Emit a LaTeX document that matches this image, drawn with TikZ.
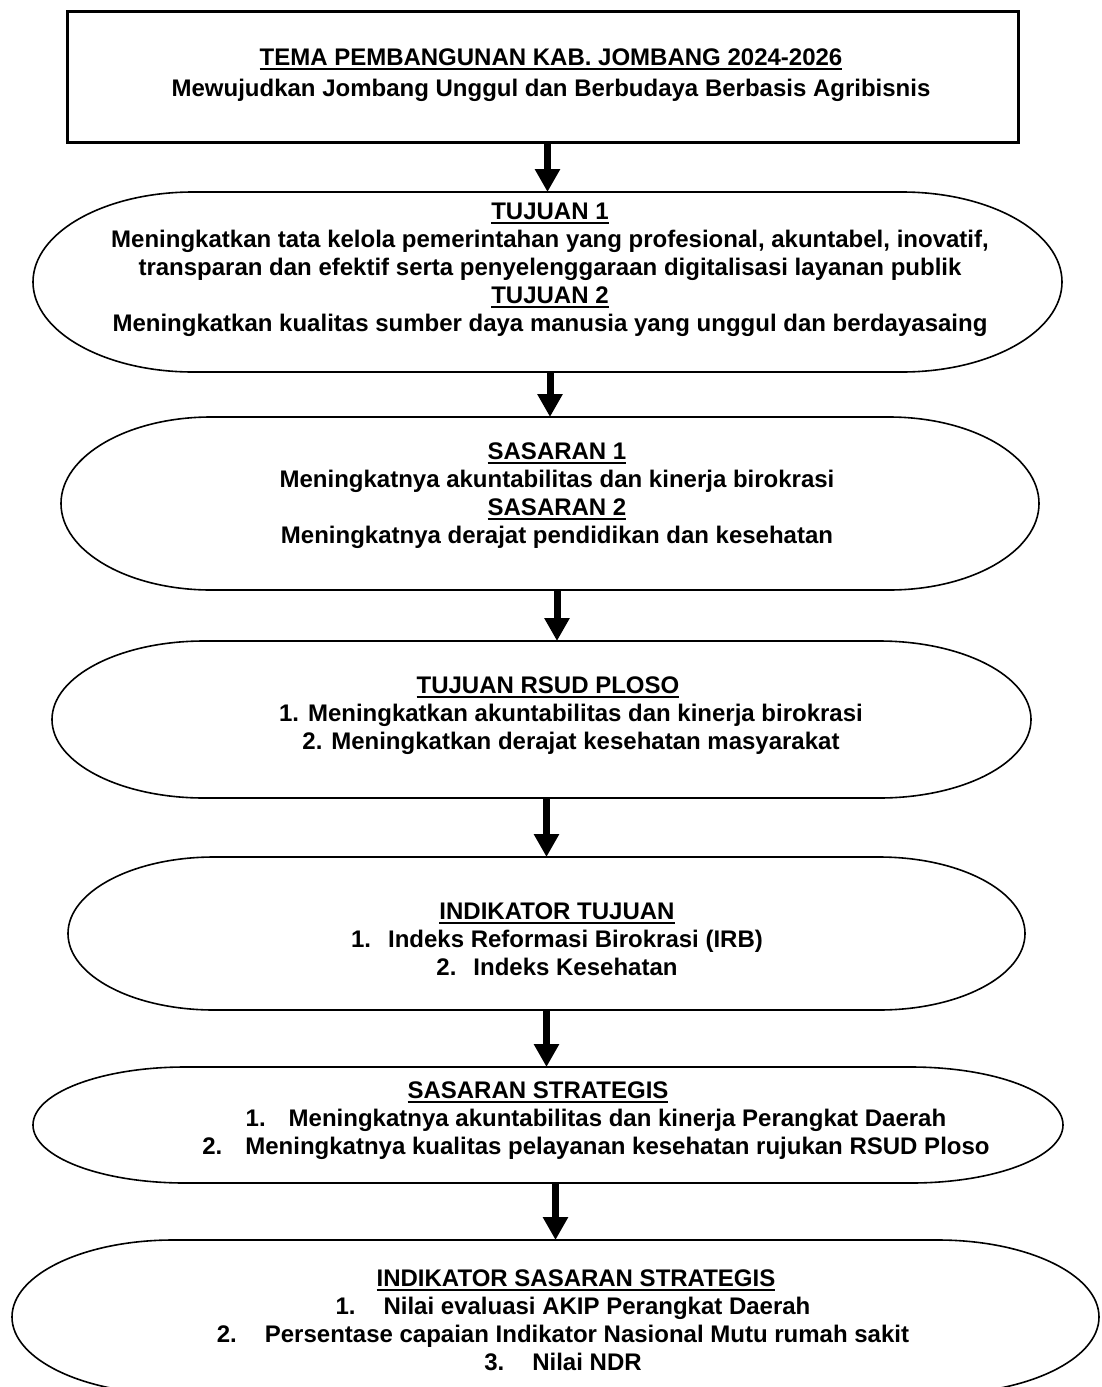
\documentclass[tikz,border=0pt]{standalone}
\usepackage{fontspec}
\setmainfont{Liberation Sans}
\usetikzlibrary{arrows.meta}

\newcommand{\judul}[1]{\leavevmode\setbox0\hbox{#1}\rlap{\rule[-2.3pt]{\wd0}{1pt}}\box0}
\newcommand{\kapsul}[3]{%
  \draw[outline] (#1.north west) -- (#1.north east)
    arc[start angle=90,end angle=-90,x radius=#2,y radius=#3]
    -- (#1.south west)
    arc[start angle=270,end angle=90,x radius=#2,y radius=#3] -- cycle;}

\begin{document}
\begin{tikzpicture}
    [
    x=0.5pt,y=-0.5pt,
    box/.style={draw,line width=1.5pt,inner sep=0pt},
    capsule/.style={inner sep=0pt,outer sep=0pt},
    outline/.style={line width=0.8pt},
    txt/.style={align=center,inner sep=0pt,font=\bfseries\fontsize{12pt}{14pt}\selectfont},
    arr/.style={line width=3.5pt,-{Triangle[width=12pt,length=11.5pt]}}
    ]
    \useasboundingbox (0,0) rectangle (1102,1387);

    \node (tema) at (542.5,76.5) [box,minimum width=475.5pt,minimum height=65.5pt] {};
    \node (tematxt) at (551,75) [txt] {\judul{TEMA PEMBANGUNAN KAB. JOMBANG 2024-2026}\\[1.5pt]
      Mewujudkan Jombang Unggul dan Berbudaya Berbasis Agribisnis};

    \node (tj) at (547.5,282) [capsule,minimum width=354.5pt,minimum height=90pt] {};
    \kapsul{tj}{80pt}{45pt}
    \node (tjtxt) at (550,270) [txt] {\judul{TUJUAN 1}\\
      Meningkatkan tata kelola pemerintahan yang profesional, akuntabel, inovatif,\\
      transparan dan efektif serta penyelenggaraan digitalisasi layanan publik\\
      \judul{TUJUAN 2}\\
      Meningkatkan kualitas sumber daya manusia yang unggul dan berdayasaing};

    \node (ss) at (550,503.5) [capsule,minimum width=339pt,minimum height=86.5pt] {};
    \kapsul{ss}{75pt}{43.25pt}
    \node (sstxt) at (557,496) [txt] {\judul{SASARAN 1}\\
      Meningkatnya akuntabilitas dan kinerja birokrasi\\
      \judul{SASARAN 2}\\
      Meningkatnya derajat pendidikan dan kesehatan};

    \node (tr) at (541.5,719.5) [capsule,minimum width=337.5pt,minimum height=78.5pt] {};
    \kapsul{tr}{76pt}{39.25pt}
    \node (trtxt) at (548,716) [txt] {\judul{TUJUAN RSUD PLOSO}\\
      \hspace*{23pt}1. Meningkatkan akuntabilitas dan kinerja birokrasi\\
      \hspace*{23pt}2. Meningkatkan derajat kesehatan masyarakat};

    \node (it) at (546.5,933.5) [capsule,minimum width=332.5pt,minimum height=76.5pt] {};
    \kapsul{it}{73pt}{38.25pt}
    \node (ittxt) at (557,939) [txt] {\judul{INDIKATOR TUJUAN}\\
      1.\hspace{8.5pt}Indeks Reformasi Birokrasi (IRB)\\
      2.\hspace{8.5pt}Indeks Kesehatan};

    \node (st) at (548,1125) [capsule,minimum width=363pt,minimum height=58pt] {};
    \kapsul{st}{76pt}{29pt}
    \node (sttxt) at (538,1121) [txt] {\judul{SASARAN STRATEGIS}\\
      \hspace*{58pt}1.\hspace{11.5pt}Meningkatnya akuntabilitas dan kinerja Perangkat Daerah\\
      \hspace*{58pt}2.\hspace{11.5pt}Meningkatnya kualitas pelayanan kesehatan rujukan RSUD Ploso};

    \node (is) at (555.5,1317) [capsule,minimum width=382.5pt,minimum height=77pt] {};
    \kapsul{is}{80.5pt}{38.5pt}
    \node (istxt) at (563,1320) [txt] {\hspace*{13pt}\judul{INDIKATOR SASARAN STRATEGIS}\\
      \hspace*{10pt}1.\hspace{14pt}Nilai evaluasi AKIP Perangkat Daerah\\
      2.\hspace{14pt}Persentase capaian Indikator Nasional Mutu rumah sakit\\
      3.\hspace{14pt}Nilai NDR};

    \draw [arr] (tj.north |- tema.south) to (tj.north);
    \draw [arr] (ss.north |- tj.south) to (ss.north);
    \draw [arr] ([xshift=3.5pt]ss.south) to ([xshift=3.5pt]ss.south |- tr.north);
    \draw [arr] (it.north |- tr.south) to (it.north);
    \draw [arr] (it.south) to (it.south |- st.north);
    \draw [arr] (is.north |- st.south) to (is.north);
\end{tikzpicture}
\end{document}
